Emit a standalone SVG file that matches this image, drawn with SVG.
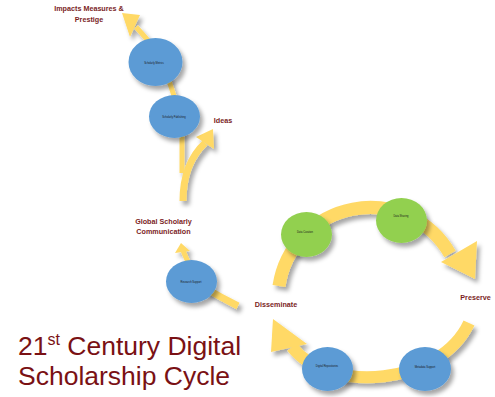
<svg xmlns="http://www.w3.org/2000/svg" width="495" height="397" viewBox="0 0 495 397">
<defs>
<filter id="sh" x="-30%" y="-30%" width="170%" height="170%">
<feDropShadow dx="3" dy="4" stdDeviation="2.2" flood-color="#000" flood-opacity="0.35"/>
</filter>
<style>
.band{fill:none;stroke:#FFD966;stroke-linecap:butt}
.head{fill:#FFD966}
.blue{fill:#5B9BD5}
.green{fill:#92D050}
.tiny{font-family:"Liberation Sans",Arial,sans-serif;font-size:2.6px;fill:#1a1a1a;text-anchor:middle}
.lbl{font-family:"Liberation Sans",Arial,sans-serif;font-size:7.2px;font-weight:bold;fill:#7B1E1E;text-anchor:middle}
.title{font-family:"Liberation Sans",Arial,sans-serif;font-size:26.5px;fill:#7A1114}
</style>
</defs>
<rect width="495" height="397" fill="#fff"/>

<g id="connectors" filter="url(#sh)">
<!-- Impacts arrow -->
<path class="band" stroke-width="5" d="M 182 173 L 182 135 C 180 110 172 90 166 72 C 160 54 150 42 136 27"/>
<polygon class="head" points="122,13 140,15 130,37"/>
<!-- Ideas arrow -->
<path class="band" stroke-width="7" d="M 183 201 C 183 176 190 157 205 143"/>
<polygon class="head" points="213,129 196,137 214,149"/>
<!-- to Global Scholarly Communication -->
<path class="band" stroke-width="5" d="M 188 262 C 186 257 184 254 183 250"/>
<polygon class="head" points="181,243 175,253 190,251"/>
<!-- tail to Disseminate -->
<path class="band" stroke-width="7" d="M 205 288 Q 222 298 238 306"/>
<!-- top big arc to Preserve -->
<path class="band" stroke-width="13" d="M 279 286 A 92 92 0 0 1 450 254"/>
<polygon class="head" points="475,279 477,241 441,262"/>
<!-- bottom arc to Disseminate -->
<path class="band" stroke-width="12" d="M 469 323 C 440 385 330 395 292 347"/>
<polygon class="head" points="273,319 271,352 307,344"/>
</g>

<g id="n-impacts-metrics" filter="url(#sh)">
<ellipse class="blue" cx="155.5" cy="62" rx="27" ry="24"/>
</g>
<text class="tiny" x="154" y="63.5">Scholarly Metrics</text>
<g id="n-publishing" filter="url(#sh)">
<ellipse class="blue" cx="174.5" cy="116.5" rx="25.5" ry="21.5"/>
</g>
<text class="tiny" x="174" y="118">Scholarly Publishing</text>
<g id="n-research-support" filter="url(#sh)">
<ellipse class="blue" cx="191.5" cy="281.5" rx="25.5" ry="21.5"/>
</g>
<text class="tiny" x="191" y="283">Research Support</text>
<g id="n-data-curation" filter="url(#sh)">
<ellipse class="green" cx="306.5" cy="234.5" rx="25.5" ry="22.5"/>
</g>
<text class="tiny" x="305" y="233">Data Curation</text>
<g id="n-data-sharing" filter="url(#sh)">
<ellipse class="green" cx="401.5" cy="220.5" rx="25.5" ry="22.5"/>
</g>
<text class="tiny" x="401" y="217">Data Sharing</text>
<g id="n-digital-repositories" filter="url(#sh)">
<ellipse class="blue" cx="327.5" cy="369" rx="25.5" ry="22"/>
</g>
<text class="tiny" x="327" y="367">Digital Repositories</text>
<g id="n-metadata-support" filter="url(#sh)">
<ellipse class="blue" cx="425" cy="369" rx="26" ry="22"/>
</g>
<text class="tiny" x="425" y="368">Metadata Support</text>

<g id="labels">
<text class="lbl" x="89" y="11">Impacts Measures &amp;</text>
<text class="lbl" x="89" y="22">Prestige</text>
<text class="lbl" x="223" y="123">Ideas</text>
<text class="lbl" x="163.5" y="224">Global Scholarly</text>
<text class="lbl" x="163.5" y="234">Communication</text>
<text class="lbl" x="276" y="307">Disseminate</text>
<text class="lbl" x="475.5" y="300">Preserve</text>
</g>

<g id="title">
<text class="title" x="18" y="355">21<tspan font-size="16" dy="-10">st</tspan><tspan dy="10"> Century Digital</tspan></text>
<text class="title" x="18" y="385">Scholarship Cycle</text>
</g>
</svg>
